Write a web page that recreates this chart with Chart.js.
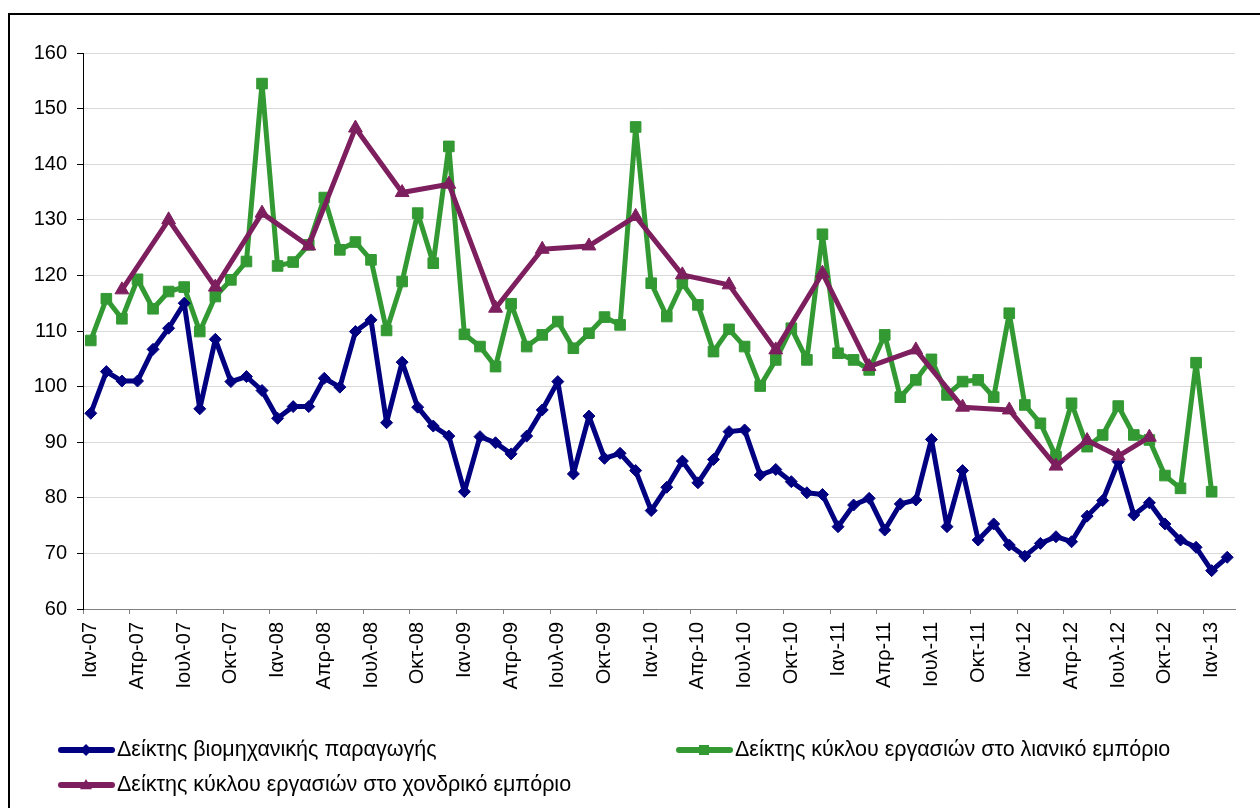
<!DOCTYPE html>
<html>
<head>
<meta charset="utf-8">
<script src="https://cdn.jsdelivr.net/npm/chart.js@4.4.1/dist/chart.umd.min.js"></script>
<style>
  html, body { margin: 0; padding: 0; background: #fff; }
  #wrap { position: relative; width: 1260px; height: 808px; }
</style>
</head>
<body>
<div id="wrap"><canvas id="chart" width="1260" height="808"></canvas></div>
<script>
// μήνες του άξονα (Ιαν-07 ... Φεβ-13)
const monthNames = ['Ιαν', 'Φεβ', 'Μαρ', 'Απρ', 'Μαϊ', 'Ιουν', 'Ιουλ', 'Αυγ', 'Σεπ', 'Οκτ', 'Νοε', 'Δεκ'];
const labels = [];
for (let y = 7; y <= 13; y++) {
    for (let m = 0; m < 12; m++) {
        if (y === 13 && m > 1) break;
        labels.push(monthNames[m] + '-' + String(y).padStart(2, '0'));
    }
}

// Δείκτης βιομηχανικής παραγωγής
const industry = [95.2, 102.7, 101.0, 101.0, 106.7, 110.5, 115.0, 96.0, 108.5, 100.9,
    101.8, 99.3, 94.3, 96.4, 96.4, 101.5, 99.9, 109.9, 112.0, 93.5,
    104.4, 96.3, 92.9, 91.1, 81.1, 91.0, 89.9, 87.9, 91.1, 95.8,
    100.9, 84.3, 94.7, 87.1, 88.0, 84.9, 77.7, 81.9, 86.6, 82.7,
    86.9, 91.9, 92.2, 84.1, 85.1, 82.9, 80.9, 80.6, 74.8, 78.7,
    79.9, 74.2, 78.9, 79.6, 90.5, 74.8, 84.9, 72.4, 75.3, 71.5,
    69.5, 71.8, 73.0, 72.1, 76.7, 79.5, 86.5, 76.9, 79.1, 75.3,
    72.4, 71.1, 66.9, 69.3];

// Δείκτης κύκλου εργασιών στο λιανικό εμπόριο
const retail = [108.3, 115.8, 112.2, 119.3, 114.0, 117.1, 117.9, 109.9, 116.2, 119.2,
    122.5, 154.5, 121.7, 122.4, 125.5, 134.0, 124.6, 126.0, 122.8, 110.1,
    118.9, 131.2, 122.2, 143.2, 109.4, 107.2, 103.6, 114.9, 107.2, 109.3,
    111.7, 106.9, 109.6, 112.5, 111.1, 146.7, 118.6, 112.6, 118.6, 114.7,
    106.3, 110.3, 107.2, 100.1, 104.8, 110.5, 104.8, 127.4, 106.0, 104.8,
    103.0, 109.3, 98.1, 101.2, 104.9, 98.5, 100.9, 101.2, 98.1, 113.2,
    96.7, 93.4, 87.4, 97.0, 89.2, 91.3, 96.5, 91.3, 90.4, 84.0,
    81.7, 104.3, 81.1, null];

// Δείκτης κύκλου εργασιών στο χονδρικό εμπόριο (τριμηνιαίος)
const wholesaleMonths = ['Μαρ-07', 'Ιουν-07', 'Σεπ-07', 'Δεκ-07', 'Μαρ-08', 'Ιουν-08', 'Σεπ-08', 'Δεκ-08',
    'Μαρ-09', 'Ιουν-09', 'Σεπ-09', 'Δεκ-09', 'Μαρ-10', 'Ιουν-10', 'Σεπ-10', 'Δεκ-10',
    'Μαρ-11', 'Ιουν-11', 'Σεπ-11', 'Δεκ-11', 'Μαρ-12', 'Μαϊ-12', 'Ιουλ-12', 'Σεπ-12'];
const wholesale = [117.4, 130.0, 117.9, 131.2, 125.3, 146.5, 134.9, 136.4,
    114.1, 124.7, 125.3, 130.6, 120.1, 118.3, 106.6, 120.4,
    103.6, 106.6, 96.3, 95.8, 85.7, 90.3, 87.5, 90.9];

const seriesNames = [
    'Δείκτης βιομηχανικής παραγωγής',
    'Δείκτης κύκλου εργασιών στο λιανικό εμπόριο',
    'Δείκτης κύκλου εργασιών στο χονδρικό εμπόριο'
];
const colors = ['#000080', '#339933', '#7D1F5E'];
const fontFamily = '"Liberation Sans", Arial, sans-serif';

// πλαίσιο γύρω από το γράφημα
const framePlugin = {
    id: 'frame',
    beforeDraw(chart) {
        const ctx = chart.ctx;
        ctx.save();
        ctx.strokeStyle = '#000';
        ctx.lineWidth = 2;
        ctx.strokeRect(9, 14, 1400, 1000);
        ctx.restore();
    }
};

function drawMarker(ctx, style, x, y, r, color) {
    ctx.fillStyle = color;
    ctx.beginPath();
    if (style === 'rectRot') {
        ctx.moveTo(x, y - r); ctx.lineTo(x + r, y); ctx.lineTo(x, y + r); ctx.lineTo(x - r, y);
    } else if (style === 'rect') {
        ctx.rect(x - r, y - r, 2 * r, 2 * r);
    } else {
        ctx.moveTo(x, y - r); ctx.lineTo(x + r, y + r * 0.7); ctx.lineTo(x - r, y + r * 0.7);
    }
    ctx.closePath();
    ctx.fill();
}

// υπόμνημα σε δύο στήλες όπως στο πρωτότυπο
const legendPlugin = {
    id: 'legend2',
    afterDraw(chart) {
        const ctx = chart.ctx;
        const items = [
            { name: seriesNames[0], color: colors[0], style: 'rectRot', x: 58, y: 750 },
            { name: seriesNames[1], color: colors[1], style: 'rect', x: 676, y: 750 },
            { name: seriesNames[2], color: colors[2], style: 'triangle', x: 58, y: 785 }
        ];
        ctx.save();
        items.forEach(it => {
            ctx.strokeStyle = it.color;
            ctx.lineWidth = 6;
            ctx.lineCap = 'round';
            ctx.beginPath();
            ctx.moveTo(it.x + 3, it.y);
            ctx.lineTo(it.x + 54, it.y);
            ctx.stroke();
            drawMarker(ctx, it.style, it.x + 28, it.y, it.style === 'rect' ? 5 : 6, it.color);
            ctx.fillStyle = '#000';
            ctx.font = '21.5px ' + fontFamily;
            ctx.textBaseline = 'middle';
            ctx.textAlign = 'left';
            ctx.fillText(it.name, it.x + 59, it.y);
        });
        ctx.restore();
    }
};

const lineStyle = { borderJoinStyle: 'round', borderCapStyle: 'round' };

const chart = new Chart(document.getElementById('chart'), {
    type: 'line',
    data: {
        labels: labels,
        datasets: [
            Object.assign({
                label: seriesNames[0],
                data: industry,
                borderColor: colors[0],
                backgroundColor: colors[0],
                borderWidth: 5,
                pointStyle: 'rectRot',
                pointRadius: 6,
                pointBorderWidth: 1,
                order: 1
            }, lineStyle),
            Object.assign({
                label: seriesNames[1],
                data: retail,
                borderColor: colors[1],
                backgroundColor: colors[1],
                borderWidth: 5,
                pointStyle: 'rect',
                pointRadius: 7.5,
                pointBorderWidth: 1,
                order: 2
            }, lineStyle),
            Object.assign({
                label: seriesNames[2],
                data: wholesaleMonths.map((m, k) => ({ x: m, y: wholesale[k] })),
                borderColor: colors[2],
                backgroundColor: colors[2],
                borderWidth: 5,
                pointStyle: 'triangle',
                pointRadius: 8,
                pointBorderWidth: 1,
                order: 0
            }, lineStyle)
        ]
    },
    options: {
        responsive: false,
        animation: false,
        layout: { padding: { left: 0, top: 53, right: 25, bottom: 0 } },
        plugins: {
            legend: { display: false },
            tooltip: { enabled: false }
        },
        elements: { line: { tension: 0 } },
        scales: {
            x: {
                type: 'category',
                offset: true,
                afterFit(scale) { scale.height = 199; },
                border: { color: '#808080', width: 1 },
                grid: {
                    offset: true,
                    drawOnChartArea: false,
                    drawTicks: true,
                    tickLength: 5,
                    tickColor: ctx => (ctx.index !== undefined && ctx.index % 3 === 0) ? '#808080' : 'rgba(0,0,0,0)'
                },
                ticks: {
                    autoSkip: false,
                    minRotation: 90,
                    maxRotation: 90,
                    padding: 8,
                    color: '#000',
                    font: { family: fontFamily, size: 20 },
                    callback: function (val, idx) {
                        return idx % 3 === 0 ? this.getLabelForValue(val) : '';
                    }
                }
            },
            y: {
                min: 60,
                max: 160,
                afterFit(scale) { scale.width = 83; },
                border: { color: '#000', width: 1 },
                grid: {
                    color: '#d9d9d9',
                    lineWidth: 1,
                    tickColor: '#000',
                    tickLength: 6
                },
                ticks: {
                    stepSize: 10,
                    padding: 10,
                    color: '#000',
                    font: { family: fontFamily, size: 20 }
                }
            }
        }
    },
    plugins: [framePlugin, legendPlugin]
});
</script>
</body>
</html>
